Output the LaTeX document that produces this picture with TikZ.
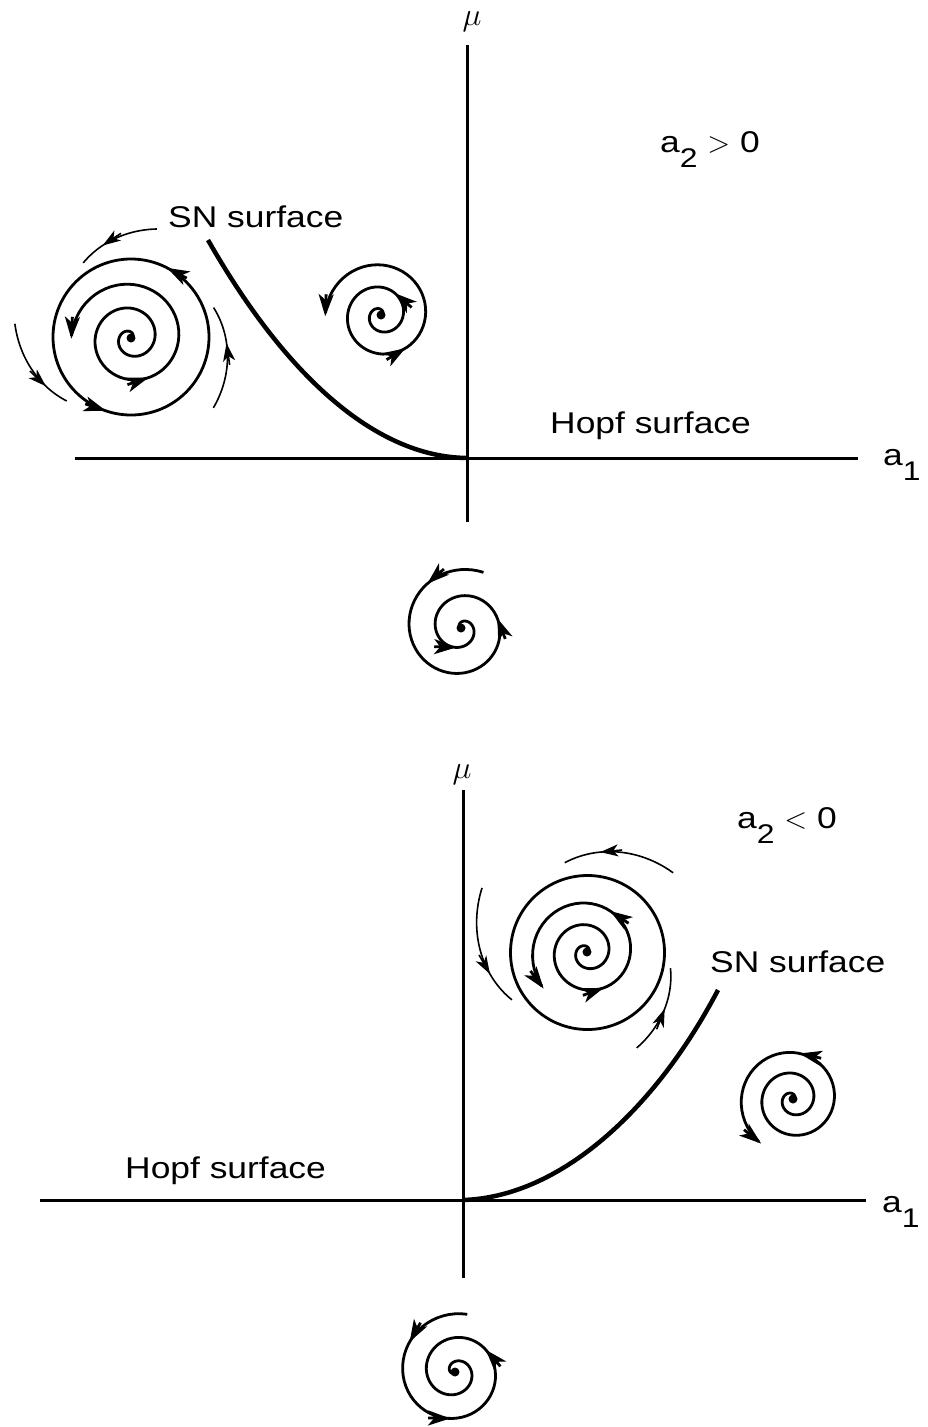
\RequirePackage{fix-cm}
\documentclass[tikz,border=0pt]{standalone}
\usepackage{fontspec}
\setmainfont{Liberation Sans}[FakeStretch=1.18]
\usetikzlibrary{arrows.meta}
\newcommand{\lowsub}[1]{\raisebox{-0.5em}{\fontsize{27}{27}\selectfont #1}}

\begin{document}
\begin{tikzpicture}[
    x=1pt, y=-1pt, % pixel grid, y pointing down
    every node/.style={font=\fontsize{30}{34}\selectfont, inner sep=0pt},
    axis/.style={line width=3pt},
    sn curve/.style={line width=4.5pt},
    flow/.style={line width=2.8pt},
    flowtip/.style={flow, -{Stealth[length=22pt, width=15pt, inset=6pt]}},
    thin flow/.style={line width=1.6pt},
    thin tip/.style={thin flow, -{Stealth[length=18pt, width=12pt, inset=5pt]}}
]
    \useasboundingbox (0,0) rectangle (928,1427);

    % --- 1. SHARED SPIRAL MACHINERY ---
    % radius grows/shrinks linearly from \rA (angle \aA) to \rB (angle \aB)
    \pgfmathdeclarefunction{sprad}{1}{\pgfmathparse{\rA+(\rB-\rA)/(\aB-\aA)*(#1-\aA)}}
    \def\setspiral#1#2#3#4#5#6{\def\cx{#1}\def\cy{#2}\def\aA{#3}\def\aB{#4}\def\rA{#5}\def\rB{#6}}
    \def\spiralpart#1#2#3{\draw[#1] plot[domain=#2:#3, samples=150, variable=\t]
        ({\cx+sprad(\t)*cos(\t)}, {\cy-sprad(\t)*sin(\t)});}
    % arrow tip centred at angle #2, pushed forward by #3 px, tangent to the spiral
    \def\flowarrow#1#2#3{%
        \pgfmathsetmacro{\rr}{sprad(#2)}%
        \pgfmathsetmacro{\ta}{#2+#3/\rr*57.2958}%
        \pgfmathsetmacro{\rr}{sprad(\ta)}%
        \pgfmathsetmacro{\dr}{(\rB-\rA)/(\aB-\aA)*57.2958}%
        \pgfmathsetmacro{\ux}{\dr*cos(\ta)-\rr*sin(\ta)}%
        \pgfmathsetmacro{\uy}{-(\dr*sin(\ta)+\rr*cos(\ta))}%
        \pgfmathsetmacro{\un}{veclen(\ux,\uy)}%
        \draw[#1] ({\cx+\rr*cos(\ta)-22*\ux/\un}, {\cy-\rr*sin(\ta)-22*\uy/\un})
            -- ({\cx+\rr*cos(\ta)}, {\cy-\rr*sin(\ta)});}
    \def\centerdot{\fill (\cx,\cy) circle (4.5pt);}

    % ==========================================
    % TOP PANEL: a2 > 0
    % ==========================================
    \coordinate (O1) at (467,458);
    \draw[axis] (75,458) -- (858,458);
    \draw[axis] (467,45) -- (467,522);
    \node (muTop) at (472,22) {\fontsize{32}{32}\selectfont$\mu$};
    \node[anchor=base west] (aOneTop) at (883,465) {a\lowsub{1}};
    \node[anchor=base west] (signTop) at (660,152) {a\lowsub{2} $>$ 0};
    \node[anchor=base west] (snTop) at (168,227) {SN surface};
    \node[anchor=base west] (hopfTop) at (550,433) {Hopf surface};

    % SN curve
    \draw[sn curve] (208,240) .. controls (285,375) and (375,457) .. (O1);

    % Left spiral with limit cycle
    \setspiral{131}{338}{0}{905}{0}{60}
    \spiralpart{flow}{0}{898}
    \flowarrow{flowtip}{640}{10}
    \flowarrow{flowtip}{893}{8}
    \centerdot
    \draw[flow] (131,337) circle (78pt);
    \setspiral{131}{337}{0}{360}{78}{78}
    \flowarrow{flowtip}{55}{10}
    \flowarrow{flowtip}{244}{10}
    % outside arcs
    \setspiral{131}{338}{76.7}{122.5}{112}{89}
    \spiralpart{thin flow}{76.7}{122.5}
    \flowarrow{thin tip}{102.4}{8}
    \setspiral{131}{338}{173}{224.4}{117}{90}
    \spiralpart{thin flow}{173}{224.4}
    \flowarrow{thin tip}{204.9}{8}
    \setspiral{131}{338}{319.7}{380.2}{108}{88}
    \spiralpart{thin flow}{319.7}{380.2}
    \flowarrow{thin tip}{352.2}{8}

    % Middle spiral (outward)
    \setspiral{381}{315}{0}{905}{0}{56}
    \spiralpart{flow}{0}{898}
    \flowarrow{flowtip}{394}{10}
    \flowarrow{flowtip}{652}{10}
    \flowarrow{flowtip}{893}{8}
    \centerdot

    % Spiral below the axis (inward)
    \setspiral{461}{628}{68}{890}{60}{0}
    \spiralpart{flow}{68}{880}
    \flowarrow{flowtip}{117}{10}
    \flowarrow{flowtip}{360}{10}
    \flowarrow{flowtip}{590}{10}
    \centerdot

    % ==========================================
    % BOTTOM PANEL: a2 < 0
    % ==========================================
    \coordinate (O2) at (463,1200);
    \draw[axis] (40,1200) -- (866,1200);
    \draw[axis] (463,790) -- (463,1278);
    \node (muBot) at (462,775) {\fontsize{32}{32}\selectfont$\mu$};
    \node[anchor=base west] (aOneBot) at (882,1212) {a\lowsub{1}};
    \node[anchor=base west] (signBot) at (737,828) {a\lowsub{2} $<$ 0};
    \node[anchor=base west] (snBot) at (710,972) {SN surface};
    \node[anchor=base west] (hopfBot) at (125,1178) {Hopf surface};

    % SN curve
    \draw[sn curve] (O2) .. controls (560,1197) and (655,1110) .. (718,990);

    % Big spiral with limit cycle
    \setspiral{587}{952}{0}{944}{0}{57}
    \spiralpart{flow}{0}{937}
    \flowarrow{flowtip}{640}{10}
    \flowarrow{flowtip}{768}{10}
    \flowarrow{flowtip}{932}{8}
    \centerdot
    \draw[flow] (587.5,952.5) circle (77pt);
    % outside arcs
    \setspiral{587}{952}{42.6}{104}{117}{92}
    \spiralpart{thin flow}{42.6}{104}
    \flowarrow{thin tip}{78}{8}
    \setspiral{587}{952}{148.6}{212.5}{123}{89}
    \spiralpart{thin flow}{148.6}{212.5}
    \flowarrow{thin tip}{188.3}{8}
    \setspiral{587}{952}{297.4}{349}{108}{85}
    \spiralpart{thin flow}{297.4}{349}
    \flowarrow{thin tip}{319.2}{8}

    % Right spiral (outward)
    \setspiral{793}{1099}{0}{958}{0}{55}
    \spiralpart{flow}{0}{951}
    \flowarrow{flowtip}{789}{10}
    \flowarrow{flowtip}{946}{8}
    \centerdot

    % Spiral below the axis (inward)
    \setspiral{455}{1372}{78}{970}{59}{0}
    \spiralpart{flow}{78}{960}
    \flowarrow{flowtip}{136}{10}
    \flowarrow{flowtip}{252}{10}
    \flowarrow{flowtip}{381}{10}
    \centerdot

\end{tikzpicture}
\end{document}
